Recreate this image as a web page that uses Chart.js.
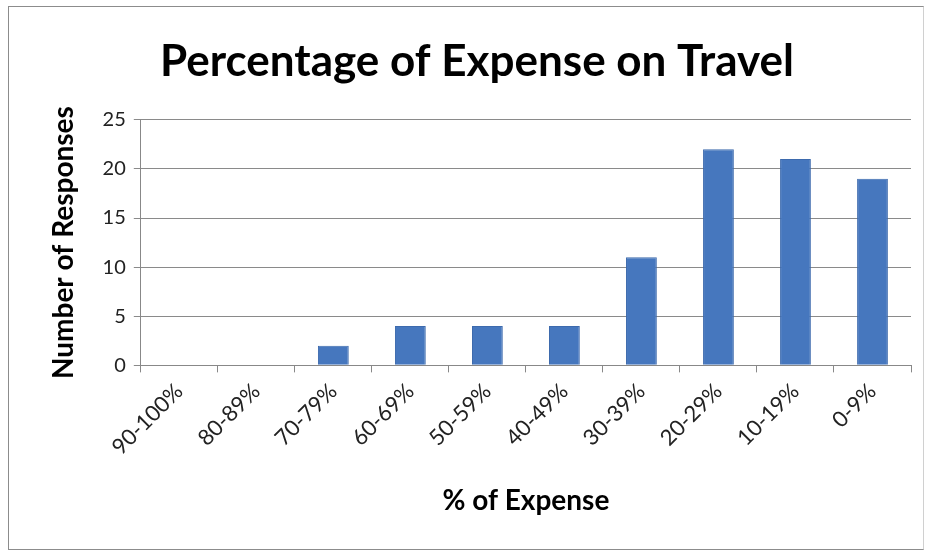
<!DOCTYPE html>
<html>
<head>
<meta charset="utf-8">
<script src="https://cdn.jsdelivr.net/npm/chart.js@4/dist/chart.umd.min.js"></script>
<style>
  html, body { margin: 0; padding: 0; background: #fff; }
  #wrap { position: absolute; left: 8px; top: 6px; width: 916px; height: 544px; border: 1px solid #8c8c8c; border-right-color: #d0d0d0; box-sizing: border-box; }
  #chart { position: absolute; left: 0; top: 0; }
</style>
</head>
<body>
<div id="wrap"><canvas id="chart" width="914" height="542"></canvas></div>
<script>
// Share of expense ranges, highest first
const ranges = ['90-100%', '80-89%', '70-79%', '60-69%', '50-59%', '40-49%', '30-39%', '20-29%', '10-19%', '0-9%'];
const responses = [0, 0, 2, 4, 4, 4, 11, 22, 21, 19];

const font = "Lato, 'Open Sans', sans-serif";
const ctx = document.getElementById('chart').getContext('2d');

new Chart(ctx, {
  type: 'bar',
  data: {
    labels: ranges,
    datasets: [{
      data: responses,
      backgroundColor: '#4677BE',
      borderColor: '#3D6AAD',
      borderWidth: 1,
      barPercentage: 0.4,
      categoryPercentage: 1.0
    }]
  },
  options: {
    responsive: false,
    animation: false,
    layout: { padding: { left: 34, right: 12, top: 12, bottom: 27 } },
    plugins: {
      legend: { display: false },
      tooltip: { enabled: false },
      title: {
        display: true,
        text: 'Percentage of Expense on Travel',
        color: '#000',
        font: { family: font, size: 44, weight: 'bold' },
        padding: { top: 16, bottom: 32 }
      }
    },
    scales: {
      x: {
        grid: { offset: true, drawOnChartArea: false, color: '#888', tickLength: 7 },
        border: { color: '#888', width: 1 },
        ticks: {
          color: '#222',
          font: { family: font, size: 22 },
          minRotation: 45,
          maxRotation: 45,
          padding: 6
        },
        title: {
          display: true,
          text: '% of Expense',
          color: '#000',
          font: { family: font, size: 28, weight: 'bold' },
          padding: { top: 18 }
        }
      },
      y: {
        min: 0,
        max: 25,
        ticks: {
          stepSize: 5,
          color: '#222',
          font: { family: font, size: 20 },
          padding: 8
        },
        grid: { color: '#8a8a8a', tickLength: 7 },
        border: { color: '#888', width: 1 },
        title: {
          display: true,
          text: 'Number of Responses',
          color: '#000',
          font: { family: font, size: 28, weight: 'bold' },
          padding: { bottom: 14 }
        }
      }
    }
  }
});
</script>
</body>
</html>
